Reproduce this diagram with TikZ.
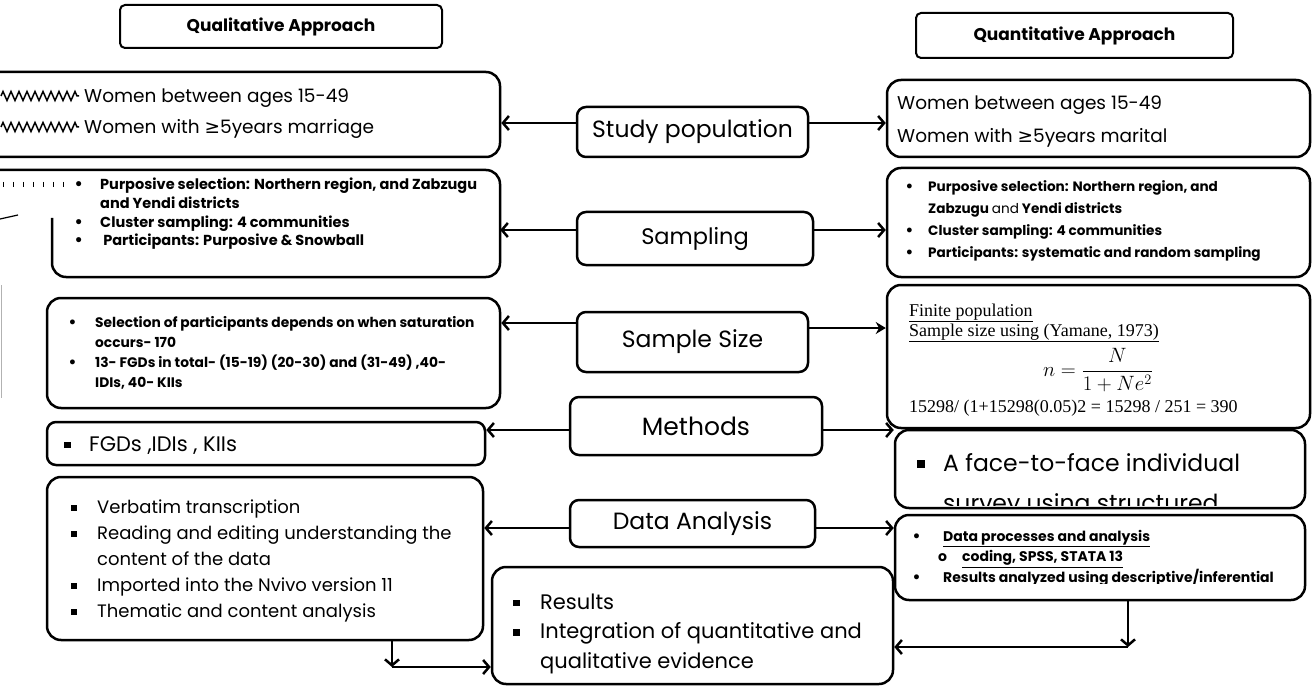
\documentclass[tikz,border=0pt]{standalone}
\usepackage{fontspec}
\setmainfont{Poppins}
\newfontfamily\dejavu{DejaVu Sans}
\newfontfamily\timesf{Liberation Serif}
\usetikzlibrary{arrows.meta,decorations.pathmorphing}
\newcommand\sqbul{\rule[0.12em]{0.33em}{0.33em}}
\newcommand\rbul{{\dejavu •}}
\begin{document}
\begin{tikzpicture}[x=1pt,y=-1pt,
  box/.style={draw, line width=2.5pt, rounded corners=14pt, fill=white, inner sep=0pt},
  cbox/.style={draw, line width=2.5pt, rounded corners=9pt, fill=white, inner sep=0pt},
  tbox/.style={draw, line width=2pt, rounded corners=5pt, fill=white, inner sep=0pt},
  ghost/.style={inner sep=0pt},
  arr/.style={line width=2.5pt, -{Straight Barb[length=6pt,width=14pt]}},
  lbl/.style={font=\fontsize{23.5}{28}\selectfont},
  txt/.style={inner sep=0pt, align=left, anchor=base west},
  zz/.style={line width=1.5pt, decorate, decoration={zigzag, amplitude=4.5pt, segment length=8pt}},
]
\useasboundingbox (0,0) rectangle (1314,687);
\clip (0,0) rectangle (1314,687);

% titles
\node[tbox, minimum width=322pt, minimum height=43pt, font=\bfseries\fontsize{17}{19}\selectfont] (qualT) at (281,26.5) {Qualitative Approach};
\node[tbox, minimum width=317pt, minimum height=45pt, font=\bfseries\fontsize{17}{19}\selectfont] (quanT) at (1074.5,35.5) {Quantitative Approach};

% study population row
\node[box, minimum width=520pt, minimum height=85pt] (studyL) at (240,114.5) {};
\node[cbox, minimum width=231pt, minimum height=50pt, lbl] (studyC) at (692.5,132) {Study population};
\node[box, minimum width=423pt, minimum height=77pt] (studyR) at (1098.5,118.5) {};
\draw[zz] (1,96) -- (79,96);
\draw[zz] (1,127) -- (79,127);
\node[txt, font=\fontsize{18.5}{31.5}\selectfont] (studyLt) at (84,134) {Women between ages 15-49\\Women with {\dejavu ≥}5years marriage};
\node[txt, font=\fontsize{18.5}{33}\selectfont] (studyRt) at (897,143) {Women between ages 15-49\\Women with {\dejavu ≥}5years marital};

% sampling row
\node[ghost, minimum width=448pt, minimum height=107pt] (sampL) at (276,223.5) {};
\draw[line width=2.5pt, rounded corners=14pt] (0,170) -| (500,277) -| (52,218);
\foreach \i in {0,...,6} \draw[line width=1pt] (3+10*\i,182) -- (3+10*\i,187);
\draw[line width=1.2pt] (0,219) -- (18,215);
\node[cbox, minimum width=236pt, minimum height=53pt, font=\fontsize{22.5}{28}\selectfont] (sampC) at (695,238.5) {Sampling};
\node[box, minimum width=423pt, minimum height=109pt] (sampR) at (1098.5,222.5) {};
\node[txt, font=\bfseries\fontsize{14.5}{18.5}\selectfont] (sampLt) at (74,245.5) {\makebox[26pt][l]{\rbul}Purposive selection: Northern region, and Zabzugu\\\hspace*{26pt}and Yendi districts\\\makebox[26pt][l]{\rbul}Cluster sampling: 4 communities\\\makebox[26pt][l]{\rbul} Participants: Purposive \& Snowball};
\node[txt, font=\bfseries\fontsize{13.6}{21.7}\selectfont] (sampRt) at (905,257) {\makebox[23pt][l]{\rbul}Purposive selection: Northern region, and\\\hspace*{23pt}Zabzugu {\mdseries and} Yendi districts\\\makebox[23pt][l]{\rbul}Cluster sampling: 4 communities\\\makebox[23pt][l]{\rbul}Participants: systematic and random sampling};

% sample size row
\node[box, minimum width=453pt, minimum height=110pt] (sizeL) at (273.5,353) {};
\node[cbox, minimum width=231pt, minimum height=60pt, lbl] (sizeC) at (692.5,342) {Sample Size};
\node[box, minimum width=423pt, minimum height=143pt] (sizeR) at (1098.5,356.5) {};
\node[txt, font=\bfseries\fontsize{13.8}{19.7}\selectfont] (sizeLt) at (68,387) {\makebox[27pt][l]{\rbul}Selection of participants depends on when saturation\\\hspace*{27pt}occurs- 170\\\makebox[27pt][l]{\rbul}13- FGDs in total- (15-19) (20-30) and (31-49) ,40-\\\hspace*{27pt}IDIs, 40- KIIs};
\node[txt, font=\timesf\fontsize{18}{20}\selectfont] (sizeRt) at (909,336) {\underline{Finite population}\\\underline{Sample size using (Yamane, 1973)}};
\node[inner sep=0pt, font=\fontsize{20}{24}\selectfont] (formula) at (1098,370) {$\displaystyle n=\frac{N}{1+Ne^{2}}$};
\node[txt, font=\timesf\fontsize{18}{20}\selectfont] (calc) at (909,412) {15298/ (1+15298(0.05)2 = 15298 / 251 = 390};

% methods row
\node[box, rounded corners=9pt, minimum width=438pt, minimum height=43pt] (methL) at (266,443.5) {};
\node[cbox, minimum width=252pt, minimum height=58pt, font=\fontsize{25}{28}\selectfont] (methC) at (696,426) {Methods};
\node[box, minimum width=410pt, minimum height=78pt] (methR) at (1100,469) {};
\node[txt, font=\fontsize{21}{24}\selectfont] (methLt) at (64,451) {\makebox[25pt][l]{\sqbul}FGDs ,IDIs , KIIs};
\begin{scope}
\clip (897,432) rectangle (1303,505);
\node[txt, font=\fontsize{23.5}{40}\selectfont] (methRt) at (917,511) {\makebox[26pt][l]{\sqbul}A face-to-face individual\\\hspace*{26pt}survey using structured};
\end{scope}

% data analysis row
\node[box, minimum width=436pt, minimum height=163pt] (dataL) at (265,558.5) {};
\node[cbox, minimum width=245pt, minimum height=47pt, lbl] (dataC) at (692.5,523.5) {Data Analysis};
\node[box, minimum width=410pt, minimum height=85pt] (dataR) at (1100,557.5) {};
\node[txt, font=\fontsize{18}{26}\selectfont] (dataLt) at (71,617) {\makebox[26pt][l]{\sqbul}Verbatim transcription\\\makebox[26pt][l]{\sqbul}Reading and editing understanding the\\\hspace*{26pt}content of the data\\\makebox[26pt][l]{\sqbul}Imported into the Nvivo version 11\\\makebox[26pt][l]{\sqbul}Thematic and content analysis};
\begin{scope}
\clip (897,517) rectangle (1303,583.5);
\node[txt, font=\bfseries\fontsize{14}{20.5}\selectfont] (dataRt) at (912,582) {\makebox[31pt][l]{\rbul}\underline{Data processes and analysis}\\\hspace*{26pt}\makebox[24pt][l]{o}\underline{coding, SPSS, STATA 13}\\\makebox[31pt][l]{\rbul}Results analyzed using descriptive/inferential};
\end{scope}

% results
\node[box, minimum width=401pt, minimum height=117pt] (res) at (692.5,625.5) {};
\node[txt, font=\fontsize{21}{29.5}\selectfont] (rest) at (513,668) {\makebox[27pt][l]{\sqbul}Results\\\makebox[27pt][l]{\sqbul}Integration of quantitative and\\\hspace*{27pt}qualitative evidence};

% gray scan line
\draw[gray!60, line width=1pt] (1,285) -- (1,398);

% connectors
\coordinate (a1) at ([yshift=9pt]studyC.west);
\coordinate (a2) at ([yshift=9pt]studyC.east);
\draw[arr] (a1) -- (a1 -| studyL.east);
\draw[arr] (a2) -- (a2 -| studyR.west);
\coordinate (b1) at ([yshift=8.5pt]sampC.west);
\coordinate (b2) at ([yshift=8.5pt]sampC.east);
\draw[arr] (b1) -- (b1 -| sampL.east);
\draw[arr] (b2) -- (b2 -| sampR.west);
\coordinate (c1) at ([yshift=19pt]sizeC.west);
\coordinate (c2) at ([yshift=14pt]sizeC.east);
\draw[arr] (c1) -- (c1 -| sizeL.east);
\draw[line width=2.5pt, -{Stealth[length=10pt,width=12pt]}] (c2) -- (c2 -| sizeR.west);
\coordinate (m1) at ([yshift=-4pt]methC.west);
\coordinate (m2) at ([yshift=-4pt]methC.east);
\draw[arr] (m1) -- (m1 -| methL.east);
\draw[arr] (m2) -- (m2 -| methR.west);
\coordinate (d1) at ([yshift=-4.5pt]dataC.west);
\coordinate (d2) at ([yshift=-4.5pt]dataC.east);
\draw[arr] (d1) -- (d1 -| dataL.east);
\draw[arr] (d2) -- (d2 -| dataR.west);
\coordinate (q1) at ([xshift=127pt]dataL.south);
\coordinate (q2) at ([yshift=-41.5pt]res.west);
\draw[arr] (q1) -- (q1 |- q2);
\draw[arr] (q1 |- q2) -- (q2);
\coordinate (r1) at ([xshift=28pt]dataR.south);
\coordinate (r2) at ([yshift=-21.5pt]res.east);
\draw[arr] (r1) -- (r1 |- r2);
\draw[arr] (r1 |- r2) -- (r2);
\end{tikzpicture}
\end{document}
